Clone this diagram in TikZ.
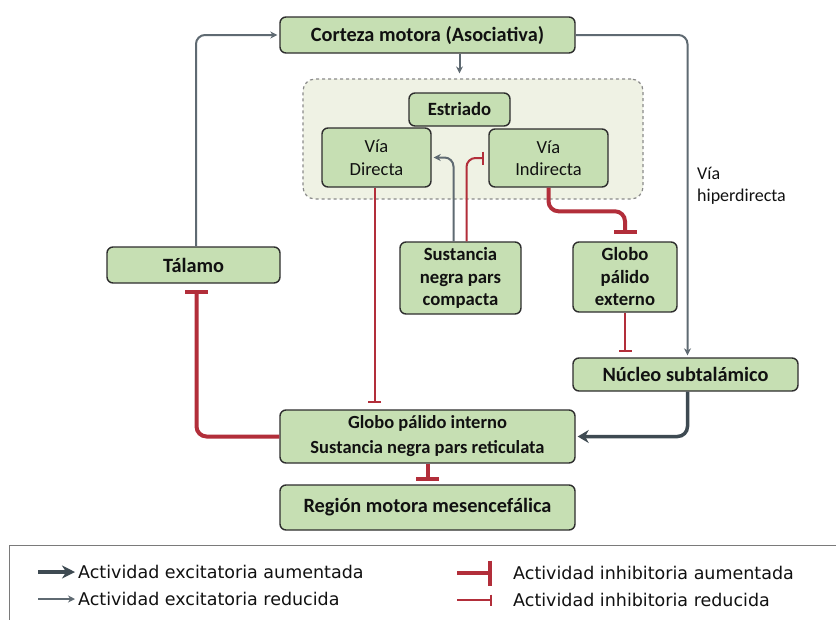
\documentclass[tikz,border=0pt]{standalone}
\usepackage{fontspec}
\setmainfont{Carlito}
\newfontfamily\legfont{DejaVu Sans}
\usetikzlibrary{arrows.meta,calc}
\definecolor{nodefill}{HTML}{C6DFB3}
\definecolor{nodedraw}{HTML}{2E2E2E}
\definecolor{grpfill}{HTML}{EFF2E4}
\definecolor{grpdraw}{HTML}{8A8A8A}
\definecolor{excthin}{HTML}{5F6A72}
\definecolor{excthick}{HTML}{3E4A52}
\definecolor{inh}{HTML}{B22E3A}
\definecolor{legdraw}{HTML}{7A7A7A}
\definecolor{txt}{HTML}{111111}
\begin{document}
\begin{tikzpicture}[x=1pt,y=-1pt,
  box/.style={draw=nodedraw,fill=nodefill,line width=1.4pt,rounded corners=6pt,
    inner sep=0pt,align=center,text=txt,font=\fontsize{18.7}{22.5}\selectfont\bfseries},
  bigbox/.style={box,font=\fontsize{20.3}{24}\selectfont\bfseries},
  boxreg/.style={box,font=\fontsize{18.5}{22.5}\selectfont},
  exc/.style={draw=excthin,line width=2pt,rounded corners=9pt,-{Stealth[length=7pt,width=7pt]}},
  exca/.style={draw=excthick,line width=3.5pt,rounded corners=10pt,-{Stealth[length=11pt,width=13pt]}},
  inhr/.style={draw=inh,line width=2pt,rounded corners=9pt,-{Bar[width=13pt]}},
  inha/.style={draw=inh,line width=4pt,rounded corners=10pt,-{Bar[width=23pt]}},
  legtext/.style={anchor=west,inner sep=0pt,text=txt,font=\legfont\fontsize{17.5}{21}\selectfont},
]
\useasboundingbox (0,0) rectangle (836,619);
\fill[white] (0,0) rectangle (836,619);

% group container
\node[draw=grpdraw,fill=grpfill,dashed,line width=1.2pt,rounded corners=12pt,
  minimum width=340pt,minimum height=120pt,inner sep=0pt] (grp) at (473,139) {};

\node[bigbox,minimum width=295pt,minimum height=36pt] (corteza) at (427.5,35) {Corteza motora (Asociativa)};
\node[box,minimum width=101pt,minimum height=33pt] (estr) at (459.5,109.5) {Estriado};
\node[boxreg,minimum width=109pt,minimum height=59pt] (vdir) at (376.5,157.5) {Vía\\Directa};
\node[boxreg,minimum width=119pt,minimum height=58pt] (vind) at (548.5,158) {Vía\\Indirecta};
\node[box,minimum width=121pt,minimum height=72pt] (snc) at (460.5,278) {Sustancia\\negra pars\\compacta};
\node[box,minimum width=104pt,minimum height=70pt] (gpe) at (625,277) {Globo\\pálido\\externo};
\node[bigbox,minimum width=225pt,minimum height=33pt] (nucleo) at (685.5,374.5) {Núcleo subtalámico};
\node[box,minimum width=295pt,minimum height=53pt,font=\fontsize{18.5}{25}\selectfont\bfseries] (gpi) at (427.5,436.5) {Globo pálido interno\\Sustancia negra pars reticulata};
\node[bigbox,minimum width=295pt,minimum height=45pt] (region) at (427.5,507.5) {Región motora mesencefálica};
\node[bigbox,minimum width=173pt,minimum height=36pt] (talamo) at (193.5,265) {Tálamo};

\node[anchor=west,align=left,inner sep=0pt,text=txt,font=\fontsize{18}{22}\selectfont] (hiper) at (697,186) {Vía\\hiperdirecta};

% connectors
\draw[exc,shorten >=5pt] (corteza.south -| estr.north) -- (grp.north -| estr.north);
\draw[exc,shorten >=2pt] (corteza.east) -| ([xshift=2pt]nucleo.north);
\draw[exc,shorten >=2pt] ([xshift=2.5pt]talamo.north) |- (corteza.west);
\draw[inhr,shorten >=6pt] ([xshift=-2pt]vdir.south) -- ([xshift=-2pt]vdir.south |- gpi.north);
\draw[exc,shorten >=2pt] ([xshift=-7pt]snc.north) |- (vdir.east);
\draw[inhr,shorten >=4pt] ([xshift=6pt]snc.north) |- (vind.west);
\draw[inha,shorten >=7pt] (vind.south) |- ([yshift=30pt]gpe.north) -- (gpe.north);
\draw[inhr,shorten >=5pt] (gpe.south) -- (gpe.south |- nucleo.north);
\draw[exca,shorten >=2pt] ([xshift=2pt]nucleo.south) |- (gpi.east);
\draw[inha,shorten >=6pt] (gpi.west) -| ([xshift=3pt]talamo.south);
\draw[inha,shorten >=3pt] (gpi.south) -- (region.north);

% legend
\node[draw=legdraw,line width=1.2pt,minimum width=840pt,minimum height=90pt,
  anchor=north west,inner sep=0pt] (legend) at (9,545) {};
\coordinate (la1) at (38,572); \coordinate (lb1) at (75,572);
\coordinate (la2) at (38,599); \coordinate (lb2) at (75,599);
\coordinate (la3) at (457,573); \coordinate (lb3) at (492,573);
\coordinate (la4) at (457,600); \coordinate (lb4) at (492,600);
\draw[draw=excthick,line width=4pt,-{Stealth[length=13pt,width=13pt]}] (la1) -- (lb1);
\draw[draw=excthin,line width=2pt,-{Stealth[length=7pt,width=7pt]}] (la2) -- (lb2);
\draw[draw=inh,line width=4pt,-{Bar[width=25pt]}] (la3) -- (lb3);
\draw[draw=inh,line width=2pt,-{Bar[width=11pt]}] (la4) -- (lb4);
\node[legtext] (lt1) at (78,572) {Actividad excitatoria aumentada};
\node[legtext] (lt2) at (78,599) {Actividad excitatoria reducida};
\node[legtext] (lt3) at (513,573) {Actividad inhibitoria aumentada};
\node[legtext] (lt4) at (513,600) {Actividad inhibitoria reducida};
\end{tikzpicture}
\end{document}
